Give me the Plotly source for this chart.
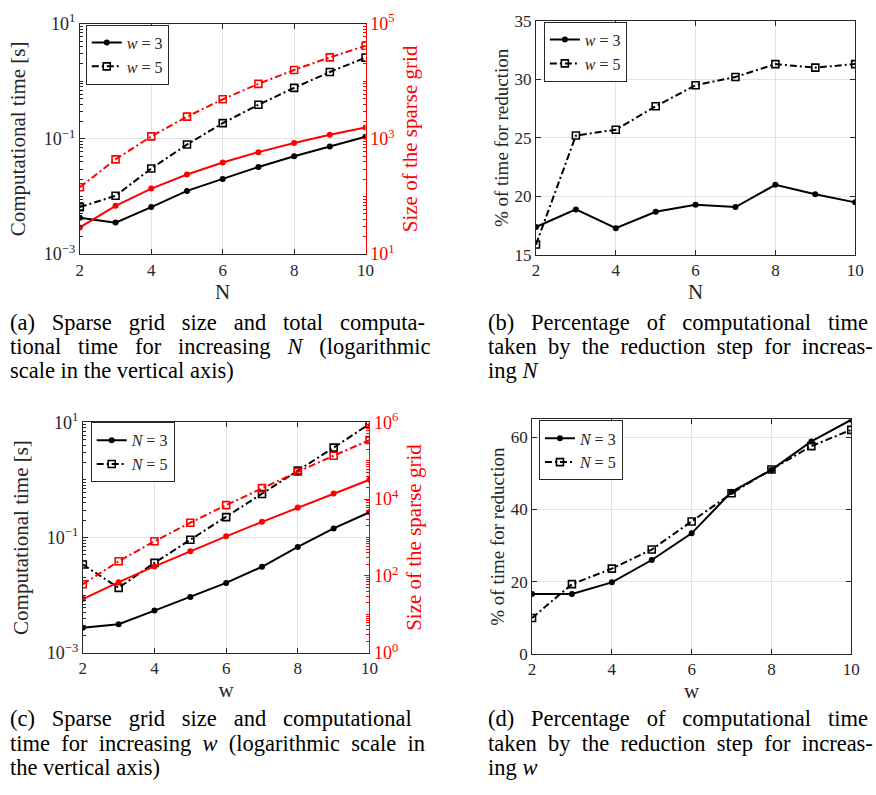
import plotly.graph_objects as go

# ---------------- data ----------------
N_vals = [2, 3, 4, 5, 6, 7, 8, 9, 10]
w_vals = [2, 3, 4, 5, 6, 7, 8, 9, 10]

# (a) computational time [s] vs N
time_w3 = [0.00427, 0.00352, 0.00655, 0.0125, 0.0202, 0.0326, 0.050, 0.0738, 0.109]
time_w5 = [0.00655, 0.0103, 0.0306, 0.0798, 0.1875, 0.392, 0.769, 1.45, 2.57]
# (a) size of sparse grid vs N
size_w3 = [29, 69, 137, 241, 389, 589, 849, 1177, 1581]
size_w5 = [145, 441, 1105, 2433, 4865, 9017, 15713, 26017, 41265]

# (b) % of time for reduction vs N
pct_w3 = [17.4, 18.9, 17.3, 18.7, 19.3, 19.1, 21.0, 20.2, 19.5]
pct_w5 = [15.9, 25.2, 25.7, 27.7, 29.5, 30.2, 31.3, 31.0, 31.3]

# (c) computational time [s] vs w
time_N3 = [0.00272, 0.00313, 0.0054, 0.0093, 0.0163, 0.0311, 0.0687, 0.144, 0.275]
time_N5 = [0.034, 0.0134, 0.0364, 0.0914, 0.2265, 0.569, 1.45, 3.64, 9.37]
# (c) size of sparse grid vs w
size_N3 = [25, 69, 177, 441, 1073, 2561, 6017, 13953, 32001]
size_N5 = [61, 241, 801, 2433, 6993, 19313, 51713, 135073, 345665]

# (d) % of time for reduction vs w
pct_N3 = [16.6, 16.6, 19.8, 26.0, 33.4, 44.9, 51.0, 58.9, 64.9]
pct_N5 = [9.9, 19.3, 23.6, 28.9, 36.7, 44.5, 51.1, 57.6, 62.1]

x_ticks = [2, 4, 6, 8, 10]

# ---------------- style ----------------
W, H = 876, 795
FONT = "Liberation Serif"
AX = "#262626"
RED = "#ff0000"
GRID = "#e3e3e3"
DASHDOT = "7px,3px,2px,3px"
NB = "\u00a0"


def px_x(a, b):
    return [a / W, b / W]


def px_y(top, bot):
    return [1 - bot / H, 1 - top / H]


def sup(e):
    s = str(e).replace("-", "\u2212")
    return "10<sup>" + s + "</sup>"


def minor_log(lo, hi):
    vals = []
    for d in range(lo, hi):
        for m in range(1, 10):
            vals.append(m * 10 ** d)
    vals.append(10 ** hi)
    return vals


fig = go.Figure()


def add_pair(x, y1, y2, names, xa, ya, leg, color):
    fig.add_trace(go.Scatter(
        x=x, y=y1, mode="lines+markers", name=names[0] if names else None,
        showlegend=bool(names), legend=leg, xaxis=xa, yaxis=ya,
        line=dict(color=color, width=2),
        marker=dict(symbol="circle", size=6, color=color)))
    fig.add_trace(go.Scatter(
        x=x, y=y2, mode="lines+markers", name=names[1] if names else None,
        showlegend=bool(names), legend=leg, xaxis=xa, yaxis=ya,
        line=dict(color=color, width=2, dash=DASHDOT),
        marker=dict(symbol="square-open", size=7, color=color,
                    line=dict(width=1.6, color=color))))


# (a)
add_pair(N_vals, size_w3, size_w5, None, "x", "y2", "legend", RED)
add_pair(N_vals, time_w3, time_w5, ["<i>w</i> = 3", "<i>w</i> = 5"], "x", "y", "legend", "black")
# (b)
add_pair(N_vals, pct_w3, pct_w5, ["<i>w</i> = 3", "<i>w</i> = 5"], "x2", "y3", "legend2", "black")
# (c)
add_pair(w_vals, size_N3, size_N5, None, "x3", "y5", "legend3", RED)
add_pair(w_vals, time_N3, time_N5, ["<i>N</i> = 3", "<i>N</i> = 5"], "x3", "y4", "legend3", "black")
# (d)
add_pair(w_vals, pct_N3, pct_N5, ["<i>N</i> = 3", "<i>N</i> = 5"], "x4", "y6", "legend4", "black")

tickfont = dict(family=FONT, size=17, color=AX)
titlefont = dict(family=FONT, size=21, color=AX)


def xaxis(dom, anchor, title):
    return dict(domain=dom, anchor=anchor, range=[2, 10], tickvals=x_ticks,
                ticks="inside", ticklen=5, tickcolor=AX, showline=True,
                linecolor=AX, linewidth=1, mirror="ticks", showgrid=True,
                gridcolor=GRID, gridwidth=1, zeroline=False, tickfont=tickfont,
                title=dict(text=title, font=titlefont, standoff=0))


def ylog(dom, anchor, lo, hi, tv, title, color, side="left", overlay=None,
         mirror="ticks", grid=True, standoff=12):
    d = dict(domain=dom, anchor=anchor, type="log", range=[lo, hi],
             tickvals=[10 ** t for t in tv], ticktext=[sup(t) for t in tv],
             ticks="inside", ticklen=5, tickcolor=color, showline=True,
             linecolor=color, linewidth=1, mirror=mirror, side=side,
             showgrid=grid, gridcolor=GRID, zeroline=False,
             tickfont=dict(family=FONT, size=18, color=color),
             minor=dict(tickmode="array", tickvals=minor_log(lo, hi),
                        ticks="inside", ticklen=3, tickcolor=color,
                        showgrid=False),
             title=dict(text=title, font=dict(family=FONT, size=21, color=color),
                        standoff=standoff))
    if overlay:
        d["overlaying"] = overlay
    return d


def ylin(dom, anchor, rng, tv, title):
    return dict(domain=dom, anchor=anchor, range=rng, tickvals=tv,
                ticks="inside", ticklen=5, tickcolor=AX, showline=True,
                linecolor=AX, linewidth=1, mirror="ticks", showgrid=True,
                gridcolor=GRID, zeroline=False, tickfont=tickfont,
                title=dict(text=title, font=dict(family=FONT, size=19, color=AX),
                           standoff=0))


dA_x, dA_y = px_x(77, 367), px_y(12, 249)
dB_x, dB_y = px_x(540, 864), px_y(9, 250)
dC_x, dC_y = px_x(80, 371), px_y(422, 659)
dD_x, dD_y = px_x(536, 860), px_y(419, 660)

legcommon = dict(bgcolor="white", bordercolor=AX, borderwidth=1,
                 font=dict(family=FONT, size=16, color=AX),
                 xanchor="left", yanchor="top", tracegroupgap=0,
                 itemwidth=30)

fig.update_layout(
    width=W, height=H, margin=dict(l=0, r=0, t=0, b=0),
    paper_bgcolor="white", plot_bgcolor="white",
    font=dict(family=FONT, color=AX),
    xaxis=xaxis(dA_x, "y", "N"),
    yaxis=ylog(dA_y, "x", -3, 1, [-3, -1, 1], "Computational time [s]", AX,
               mirror=False),
    yaxis2=ylog(dA_y, "x", 1, 5, [1, 3, 5], "Size of the sparse grid", RED,
                side="right", overlay="y", mirror=False, grid=False, standoff=8),
    xaxis2=xaxis(dB_x, "y3", "N"),
    yaxis3=ylin(dB_y, "x2", [15, 35], [15, 20, 25, 30, 35], "% of time for reduction"),
    xaxis3=xaxis(dC_x, "y4", "w"),
    yaxis4=ylog(dC_y, "x3", -3, 1, [-3, -1, 1], "Computational time [s]", AX,
                mirror=False),
    yaxis5=ylog(dC_y, "x3", 0, 6, [0, 2, 4, 6], "Size of the sparse grid", RED,
                side="right", overlay="y4", mirror=False, grid=False, standoff=8),
    xaxis4=xaxis(dD_x, "y6", "w"),
    yaxis6=ylin(dD_y, "x4", [0, 65], [0, 20, 40, 60], "% of time for reduction"),
    legend=dict(x=83 / W, y=1 - 13 / H, **legcommon),
    legend2=dict(x=548 / W, y=1 - 10 / H, **legcommon),
    legend3=dict(x=88 / W, y=1 - 422 / H, **legcommon),
    legend4=dict(x=543 / W, y=1 - 420 / H, **legcommon),
)


def just(words, extra):
    return (" " + NB * extra).join(words)


captions = [
    (4, [319, 344, 369], [just("(a) Sparse grid size and total computa-".split(), 2),
                          just("tional time for increasing <i>N</i> (logarithmic".split(), 2),
                          "scale in the vertical axis)"]),
    (489, [319, 344, 369], [just("(b) Percentage of computational time".split(), 2),
                            just("taken by the reduction step for increas-".split(), 1),
                            "ing <i>N</i>"]),
    (4, [727, 752, 777], [just("(c) Sparse grid size and computational".split(), 2),
                          just("time for increasing <i>w</i> (logarithmic scale in".split(), 1),
                          "the vertical axis)"]),
    (489, [727, 752, 777], [just("(d) Percentage of computational time".split(), 2),
                            just("taken by the reduction step for increas-".split(), 1),
                            "ing <i>w</i>"]),
]
for x0, ys, lines in captions:
    for yy, txt in zip(ys, lines):
        fig.add_annotation(x=x0 / W, y=1 - yy / H, xref="paper", yref="paper",
                           xanchor="left", yanchor="middle", showarrow=False,
                           text=txt, font=dict(family=FONT, size=22.5, color="black"))

fig.write_html("out.html", config={"displayModeBar": False},
               post_script="document.body.style.margin='0';document.body.style.padding='0';")
